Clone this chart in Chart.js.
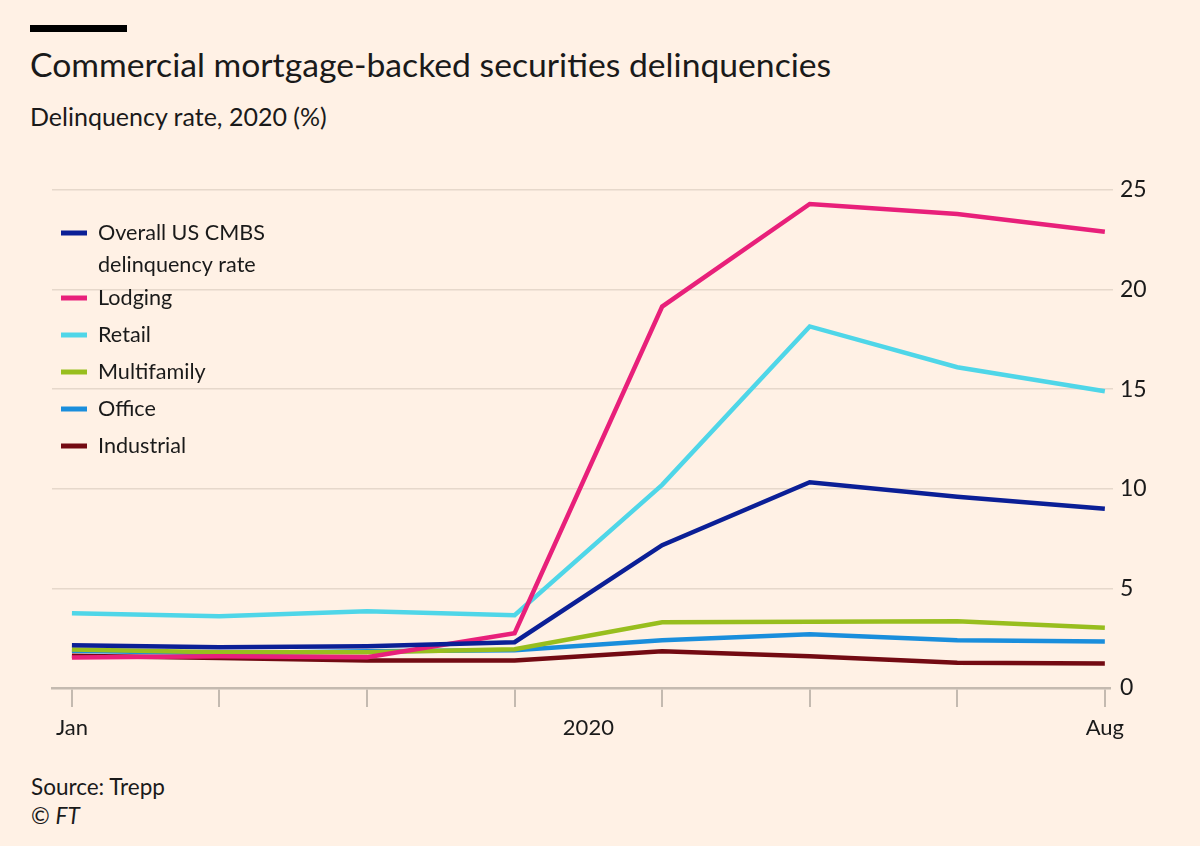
<!DOCTYPE html>
<html>
<head>
<meta charset="utf-8">
<script src="https://cdn.jsdelivr.net/npm/chart.js@4"></script>
<style>
  html, body { margin: 0; padding: 0; background: #FFF1E5; }
  #wrap { position: relative; width: 1200px; height: 846px; background: #FFF1E5; overflow: hidden; font-family: Lato, "Noto Sans", sans-serif; color: #1a1a1a; }
  #bar { position: absolute; left: 30px; top: 25px; width: 97px; height: 7px; background: #000; }
  #title { position: absolute; left: 30px; top: 44px; font-size: 33.7px; line-height: 40px; white-space: nowrap; }
  #subtitle { position: absolute; left: 30px; top: 101px; font-size: 25px; line-height: 30px; white-space: nowrap; }
  #source { position: absolute; left: 31px; top: 774px; font-size: 22.5px; line-height: 26px; white-space: nowrap; }
  #copy { position: absolute; left: 31px; top: 803px; font-size: 22.5px; line-height: 26px; white-space: nowrap; }
  #c { position: absolute; left: 0; top: 0; }
</style>
</head>
<body>
<div id="wrap">
  <div id="bar"></div>
  <div id="title">Commercial mortgage-backed securities delinquencies</div>
  <div id="subtitle">Delinquency rate, 2020 (%)</div>
  <div id="source">Source: Trepp</div>
  <div id="copy">© <i>FT</i></div>
  <canvas id="c" width="1200" height="846"></canvas>
</div>
<script>
// ---- data ----
const months = ["Jan", "Feb", "Mar", "Apr", "May", "Jun", "Jul", "Aug"];
const xTickLabels = ["Jan", "", "", "", "", "", "", "Aug"];
const yearLabel = "2020";
const yTicks = [0, 5, 10, 15, 20, 25];

const seriesNames = ["Overall US CMBS delinquency rate", "Lodging", "Retail", "Multifamily", "Office", "Industrial"];
const overall     = [2.15, 2.05, 2.1, 2.3, 7.17, 10.33, 9.6, 9.0];
const lodging     = [1.53, 1.6, 1.55, 2.75, 19.15, 24.3, 23.8, 22.9];
const retail      = [3.75, 3.6, 3.85, 3.65, 10.2, 18.15, 16.1, 14.9];
const multifamily = [1.93, 1.8, 1.8, 1.95, 3.3, 3.32, 3.35, 3.03];
const office      = [1.87, 1.75, 1.85, 1.9, 2.4, 2.7, 2.4, 2.33];
const industrial  = [1.62, 1.5, 1.38, 1.38, 1.85, 1.6, 1.27, 1.23];
const seriesColors = ["#0B1F96", "#E8207A", "#4FD6E8", "#98BE1E", "#1A8EDC", "#730A12"];

const seriesValues = [overall, lodging, retail, multifamily, office, industrial];

const datasets = seriesValues.map((vals, s) => ({
  label: seriesNames[s],
  data: vals.map((v, i) => ({ x: i, y: v })),
  borderColor: seriesColors[s],
  backgroundColor: seriesColors[s],
  borderWidth: 4.5,
  pointRadius: 0,
  tension: 0,
  fill: false
}));

const FONT = 'Lato, "Noto Sans", sans-serif';

const legendPlugin = {
  id: 'ftLegend',
  afterDatasetsDraw(chart) {
    const ctx = chart.ctx;
    ctx.save();
    ctx.font = '21.6px ' + FONT;
    ctx.fillStyle = '#1a1a1a';
    ctx.textBaseline = 'middle';
    let y = 233;
    chart.data.datasets.forEach(ds => {
      ctx.strokeStyle = ds.borderColor;
      ctx.lineWidth = 5;
      ctx.beginPath();
      ctx.moveTo(61, y);
      ctx.lineTo(87, y);
      ctx.stroke();
      const words = ds.label.split(' ');
      const lines = [];
      let cur = '';
      words.forEach(w => {
        const t = cur ? cur + ' ' + w : w;
        if (ctx.measureText(t).width > 185 && cur) { lines.push(cur); cur = w; }
        else cur = t;
      });
      lines.push(cur);
      lines.forEach((ln, k) => ctx.fillText(ln, 98, y + k * 32));
      y += 37 + (lines.length - 1) * 28;
    });
    ctx.restore();
  }
};

const tickPositions = months.map((m, i) => i).concat([3.5]);

new Chart(document.getElementById('c'), {
  type: 'line',
  data: { datasets },
  plugins: [legendPlugin],
  options: {
    responsive: false,
    animation: false,
    devicePixelRatio: 1,
    layout: { padding: { left: 52, top: 190, right: 0, bottom: 0 } },
    plugins: { legend: { display: false }, tooltip: { enabled: false } },
    scales: {
      x: {
        type: 'linear',
        min: -0.135,
        max: 7.035,
        afterBuildTicks: (scale) => { scale.ticks = tickPositions.map(v => ({ value: v })); },
        afterFit: (scale) => { scale.height = 158; },
        ticks: {
          autoSkip: false,
          maxRotation: 0,
          padding: 8,
          color: '#1a1a1a',
          font: { family: FONT, size: 22 },
          callback: (v) => (v === 3.5 ? yearLabel : (xTickLabels[v] || ''))
        },
        grid: {
          drawOnChartArea: false,
          drawTicks: true,
          tickLength: 19,
          lineWidth: 2,
          tickColor: (ctx) => (ctx.tick && ctx.tick.value === 3.5 ? 'rgba(0,0,0,0)' : '#C4BAB0')
        },
        border: { display: true, color: '#C4BAB0', width: 2.5 }
      },
      y: {
        position: 'right',
        min: 0,
        max: 25,
        afterBuildTicks: (scale) => { scale.ticks = yTicks.map(v => ({ value: v })); },
        afterFit: (scale) => { scale.width = 90; },
        ticks: {
          padding: 7,
          color: '#1a1a1a',
          font: { family: FONT, size: 23 }
        },
        grid: {
          color: (ctx) => (ctx.tick && ctx.tick.value === 0 ? 'rgba(0,0,0,0)' : '#E6D8CB'),
          lineWidth: 1.5,
          tickLength: 3
        },
        border: { display: false }
      }
    }
  }
});
</script>
</body>
</html>
